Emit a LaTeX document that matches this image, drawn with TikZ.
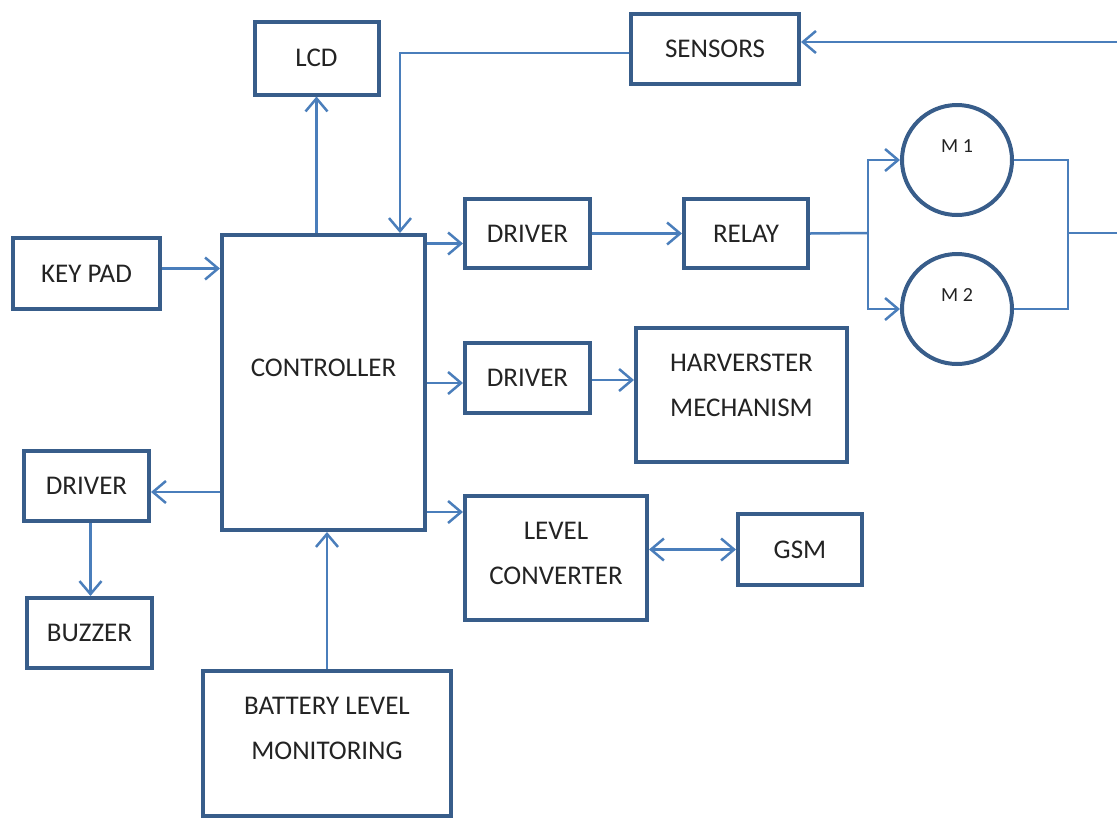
\documentclass[tikz,border=0pt]{standalone}
\usepackage{fontspec}
\setmainfont{Carlito}
\usetikzlibrary{positioning,arrows.meta}
\definecolor{boxblue}{RGB}{56,93,138}
\definecolor{wireblue}{RGB}{74,126,187}
\definecolor{txtgray}{RGB}{35,35,35}

\tikzset{
  blk/.style={draw=boxblue, line width=4pt, text=txtgray, align=center,
    font=\fontsize{27}{45}\selectfont, inner sep=0pt},
  lbl/.style={text=txtgray, align=center, font=\fontsize{27}{45}\selectfont},
  mlbl/.style={text=txtgray, font=\fontsize{20}{22}\selectfont, yshift=14pt},
  mot/.style={circle, draw=boxblue, line width=4pt, minimum size=110pt, inner sep=0pt},
  wire/.style={draw=wireblue, line width=2.5pt},
  >={Straight Barb[length=13pt,width=22pt]}
}

\begin{document}
\begin{tikzpicture}[x=1pt, y=-1pt]
	\useasboundingbox (0,0) rectangle (1117,820);

	% blocks
	\node[blk, minimum width=124pt, minimum height=73pt] (lcd) at (316.5,58) {LCD};
	\node[blk, minimum width=168pt, minimum height=70pt] (sens) at (715,49) {SENSORS};
	\node[blk, minimum width=147pt, minimum height=71pt] (key) at (86.5,273.5) {KEY PAD};
	\node[blk, minimum width=203pt, minimum height=295pt,
		label={[lbl, yshift=15pt]center:CONTROLLER}] (ctrl) at (323.5,382.5) {};
	\node[blk, minimum width=125pt, minimum height=69pt] (drva) at (527.5,233.5) {DRIVER};
	\node[blk, minimum width=124pt, minimum height=69pt] (relay) at (746,233.5) {RELAY};
	\node[mot, label={[mlbl]center:M 1}] (m1) at (957,160) {};
	\node[mot, label={[mlbl]center:M 2}] (m2) at (957,309) {};
	\node[blk, minimum width=125pt, minimum height=70pt] (drvb) at (527.5,378) {DRIVER};
	\node[blk, minimum width=211pt, minimum height=134pt,
		label={[lbl, yshift=10pt]center:HARVERSTER\\MECHANISM}] (harv) at (741.5,395) {};
	\node[blk, minimum width=125pt, minimum height=70pt] (drvc) at (86.5,486) {DRIVER};
	\node[blk, minimum width=125pt, minimum height=70pt] (buzz) at (89.5,633) {BUZZER};
	\node[blk, minimum width=182pt, minimum height=124pt,
		label={[lbl, yshift=5pt]center:LEVEL\\CONVERTER}] (lvl) at (556,558) {};
	\node[blk, minimum width=124pt, minimum height=71pt] (gsm) at (800,549.5) {GSM};
	\node[blk, minimum width=248pt, minimum height=145pt,
		label={[lbl, yshift=15pt]center:BATTERY LEVEL\\MONITORING}] (batt) at (327,743.5) {};

	% free ends and junctions
	\coordinate (ein) at (1117,42);
	\coordinate (eout) at (1117,233);
	\coordinate (sbend) at (400,53);
	\coordinate (split) at (868,233);
	\coordinate (join) at (1068,233);

	% connectors
	\draw[wire, ->] (lcd.south |- ctrl.north) -- (lcd.south);
	\draw[wire, ->] (ein) -- (ein -| sens.east);
	\draw[wire, ->] ([yshift=-4pt]sens.west) -- (sbend) -- (sbend |- ctrl.north);
	\draw[wire, ->] ([yshift=5pt]key.east) -- ([yshift=5pt]key.east -| ctrl.west);
	\draw[wire, ->] ([yshift=-10pt]drva.west -| ctrl.east) -- ([yshift=-10pt]drva.west);
	\draw[wire, ->] (drva.east) -- (drva.east -| relay.west);
	\draw[wire] (relay.east) -- (split);
	\draw[wire, ->] (split) |- (m1.west);
	\draw[wire, ->] (split) |- (m2.west);
	\draw[wire] (m1.east) -| (join);
	\draw[wire] (m2.east) -| (join);
	\draw[wire] (join) -- (eout);
	\draw[wire, ->] ([yshift=-5pt]drvb.west -| ctrl.east) -- ([yshift=-5pt]drvb.west);
	\draw[wire, ->] ([yshift=-2pt]drvb.east) -- ([yshift=-2pt]drvb.east -| harv.west);
	\draw[wire, ->] ([yshift=-6pt]drvc.east -| ctrl.west) -- ([yshift=-6pt]drvc.east);
	\draw[wire, ->] ([xshift=4pt]drvc.south) -- ([xshift=4pt]drvc.south |- buzz.north);
	\draw[wire, ->] ([yshift=-18pt]lvl.north west -| ctrl.east) -- ([yshift=-18pt]lvl.north west);
	\draw[wire, <->] (lvl.east |- gsm.west) -- (gsm.west);
	\draw[wire, ->] (batt.north) -- (batt.north |- ctrl.south);
\end{tikzpicture}
\end{document}
